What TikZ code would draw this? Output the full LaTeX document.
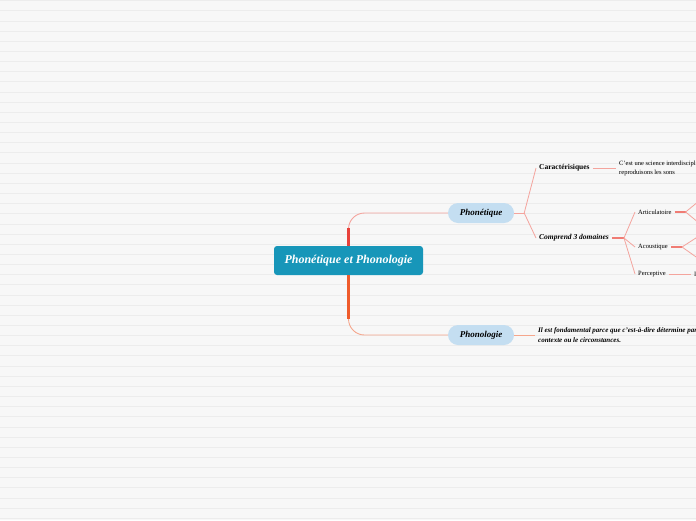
\documentclass[tikz,border=0pt]{standalone}
\usepackage{fontspec}
\setmainfont{Liberation Serif}
\usetikzlibrary{positioning,calc}
\definecolor{mapbg}{HTML}{F7F7F7}
\definecolor{mapruler}{HTML}{ECECEC}
\definecolor{rootblue}{HTML}{1796B9}
\definecolor{topicblue}{HTML}{C4DEF1}
\definecolor{spinered}{HTML}{E8423B}
\definecolor{spineorange}{HTML}{EF5B2B}
\definecolor{twigsalmon}{HTML}{F4A49D}
\definecolor{twigorange}{HTML}{F5A68C}
\definecolor{twigred}{HTML}{F07C74}

\begin{document}
\begin{tikzpicture}[x=1pt, y=-1pt,
  root/.style={fill=rootblue, rounded corners=3pt, text=white, minimum width=149pt,
               minimum height=29pt, font=\bfseries\itshape\fontsize{12}{14}\selectfont},
  topic/.style={fill=topicblue, rounded corners=10pt, minimum width=66pt, minimum height=20pt,
                font=\bfseries\itshape\fontsize{9}{11}\selectfont},
  sub/.style={anchor=west, inner sep=3pt, font=\bfseries\fontsize{7.5}{9}\selectfont},
  leaf/.style={anchor=west, inner sep=3pt, font=\fontsize{6.5}{8}\selectfont},
  note/.style={anchor=west, inner sep=3pt, align=left, font=\fontsize{6.5}{9}\selectfont},
  twig/.style={twigsalmon, line width=0.8pt},
  twigbold/.style={twigred, line width=1.4pt}
]
\useasboundingbox (0,0) rectangle (696,520);
\fill[mapbg] (0,0) rectangle (696,520);
\clip (0,0) rectangle (696,520);
\foreach \i in {0,...,51}
  \draw[mapruler, line width=0.6pt] (0,0.5+10.15*\i) -- (696,0.5+10.15*\i);

% central topic and main branches
\node[root] (root) at (348.5,260.5) {Phonétique et Phonologie};
\node[topic] (phonetique) at (481,213) {Phonétique};
\node[topic] (phonologie) at (481,335) {Phonologie};

\draw[twigsalmon, line width=0.9pt, rounded corners=16pt] (root.north) |- (phonetique.west);
\draw[twigorange, line width=0.9pt, rounded corners=16pt] (root.south) |- (phonologie.west);
\draw[spinered, line width=3.6pt] (root.north) -- ++(0,-18);
\draw[spineorange, line width=3.6pt] (root.south) -- ++(0,44);

% Phonetique
\node[sub] (caract) at (536,168) {Caractérisiques};
\node[sub, font=\bfseries\itshape\fontsize{7.5}{9}\selectfont] (comprend) at (536,238) {Comprend 3 domaines};
\node[note] (definition) at (616,168) {C'est une science interdisciplinaire\\reproduisons les sons};

\draw[twig] (phonetique.east) -- ++(10,0) coordinate (forkA);
\draw[twig] (forkA) -- (caract.west);
\draw[twig] (forkA) -- (comprend.west);
\draw[twig] (caract.east) -- (definition.west);

% domaines
\node[leaf] (articul) at (635,212) {Articulatoire};
\node[leaf] (acoust) at (635,247) {Acoustique};
\node[leaf] (percept) at (635,274) {Perceptive};
\node[leaf] (perceptnext) at (691,274) {I};

\draw[twigbold] (comprend.east) -- ++(12,0) coordinate (forkB);
\draw[twig] (forkB) -- (articul.west);
\draw[twig] (forkB) -- (acoust.west);
\draw[twig] (forkB) -- (percept.west);

\coordinate (articulA) at (699,201);
\coordinate (articulB) at (699,223);
\coordinate (acoustA) at (699,236);
\coordinate (acoustB) at (699,259);
\draw[twigbold] (articul.east) -- ++(11,0) coordinate (forkC);
\draw[twig] (forkC) -- (articulA);
\draw[twig] (forkC) -- (articulB);
\draw[twigbold] (acoust.east) -- ++(11,0) coordinate (forkD);
\draw[twig] (forkD) -- (acoustA);
\draw[twig] (forkD) -- (acoustB);
\draw[twig] (percept.east) -- (perceptnext.west);

% Phonologie
\node[note, font=\bfseries\itshape\fontsize{7}{10}\selectfont] (role) at (535,335)
  {Il est fondamental parce que c'est-à-dire détermine par\\contexte ou le circonstances.};
\draw[twigorange, line width=0.9pt] (phonologie.east) -- (role.west);
\end{tikzpicture}
\end{document}
